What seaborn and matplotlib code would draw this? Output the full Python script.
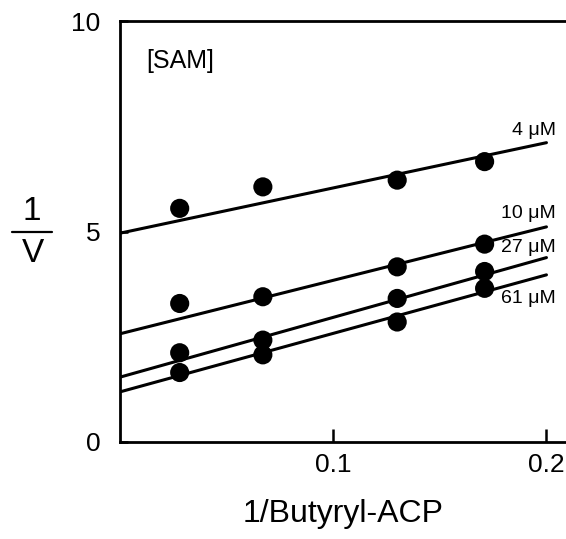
import matplotlib
matplotlib.use("Agg")
import matplotlib.pyplot as plt
import seaborn as sns
import pandas as pd
import numpy as np
from matplotlib.lines import Line2D

# ---- data ----
x_vals = [0.028, 0.067, 0.130, 0.171]
sam_labels = ["4 \u03bcM", "10 \u03bcM", "27 \u03bcM", "61 \u03bcM"]
y_4 = [5.55, 6.06, 6.22, 6.66]
y_10 = [3.29, 3.45, 4.16, 4.70]
y_27 = [2.12, 2.42, 3.41, 4.05]
y_61 = [1.65, 2.07, 2.85, 3.65]
intercepts = [4.96, 2.57, 1.54, 1.19]
slopes = [10.75, 12.7, 14.2, 13.9]
line_x = [0.0, 0.2]
x_ticks = [0.1, 0.2]
x_ticklabels = ["0.1", "0.2"]
y_ticks = [0, 5, 10]
y_ticklabels = ["0", "5", "10"]

series = [y_4, y_10, y_27, y_61]
pts = pd.DataFrame({
    "x": np.tile(x_vals, len(series)),
    "y": np.concatenate(series),
    "SAM": np.repeat(sam_labels, len(x_vals)),
})
lines = pd.DataFrame({
    "x": np.tile(line_x, len(series)),
    "y": np.concatenate([[b + m * xx for xx in line_x] for b, m in zip(intercepts, slopes)]),
    "SAM": np.repeat(sam_labels, len(line_x)),
})

sns.set_theme(style="ticks")
plt.rcParams["font.family"] = ["Liberation Sans", "DejaVu Sans"]
for k in ["text.color", "axes.labelcolor", "xtick.color", "ytick.color", "axes.edgecolor"]:
    plt.rcParams[k] = "black"

fig = plt.figure(figsize=(5.66, 5.39), dpi=100)
ax = fig.add_axes([0.212, 0.180, 0.79, 0.781])

pal = {s: "black" for s in sam_labels}
sns.lineplot(data=lines, x="x", y="y", hue="SAM", palette=pal, linewidth=2.2,
             legend=False, ax=ax)
sns.scatterplot(data=pts, x="x", y="y", hue="SAM", palette=pal, s=190,
                edgecolor="black", linewidth=0, legend=False, ax=ax, zorder=3)

ax.set_xlim(0, 0.2097)
ax.set_ylim(0, 10)
ax.set_xticks(x_ticks)
ax.set_xticklabels(x_ticklabels)
ax.set_yticks(y_ticks)
ax.set_yticklabels(y_ticklabels)
ax.tick_params(axis="x", direction="in", length=9.5, width=1.8, labelsize=19, pad=8)
ax.tick_params(axis="y", direction="in", length=6, width=1.8, labelsize=19, pad=14)
for side in ["left", "bottom", "top"]:
    ax.spines[side].set_linewidth(2.0)
    ax.spines[side].set_color("black")
ax.spines["right"].set_visible(False)
ax.set_xlabel("1/Butyryl-ACP", fontsize=23, labelpad=16)
ax.set_ylabel("")

# series labels
label_y = [7.39, 5.42, 4.63, 3.40]
for lab, yy in zip(sam_labels, label_y):
    ax.text(0.2045, yy, lab, ha="right", va="center", fontsize=14)

ax.text(0.0125, 9.05, "[SAM]", ha="left", va="center", fontsize=18)

# 1/V fraction label
fig.text(32 / 566, 1 - 212 / 539, "1", ha="center", va="center", fontsize=24)
fig.text(33 / 566, 1 - 253 / 539, "V", ha="center", va="center", fontsize=24)
fig.add_artist(Line2D([12 / 566, 52 / 566], [1 - 232 / 539, 1 - 232 / 539],
                      transform=fig.transFigure, color="black", linewidth=1.6))

fig.savefig("out.png", dpi=100)
